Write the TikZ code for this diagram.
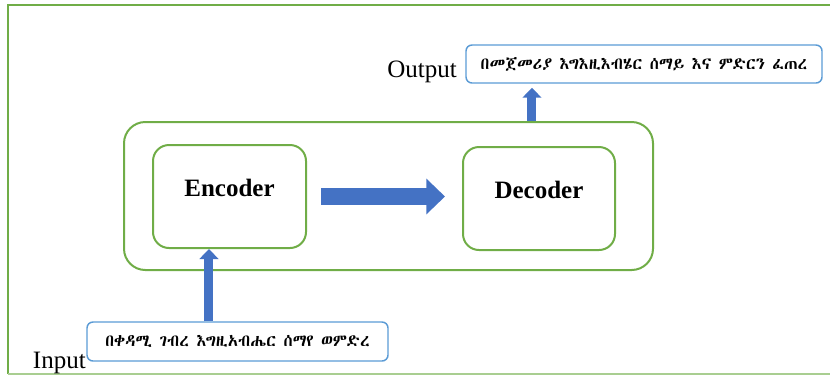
\documentclass[tikz,border=0pt]{standalone}
\usepackage{fontspec}
\setmainfont{Liberation Serif}
\IfFontExistsTF{Abyssinica SIL}
  {\newfontfamily\ethfont{Abyssinica SIL}}
  {\IfFontExistsTF{FreeSerif}
    {\newfontfamily\ethfont{FreeSerif}}
    {\newfontfamily\ethfont{DejaVu Sans}}}
\usetikzlibrary{arrows.meta}

\begin{document}
\begin{tikzpicture}[x=0.75pt, y=-0.75pt,
    greenbox/.style={draw=framegreen, line width=1.5pt, rounded corners=12pt},
    textbox/.style={draw=boxblue, line width=1.1pt, rounded corners=4.5pt,
      font=\ethfont\fontsize{12.5pt}{14pt}\selectfont},
    lbl/.style={inner sep=0pt, font=\fontsize{18.75pt}{20pt}\selectfont},
    fatarrow/.style={draw=arrowblue, line width=12.75pt,
      -{Triangle[width=26pt,length=14pt]}},
    thinarrow/.style={draw=arrowblue, line width=6.75pt,
      -{Triangle[width=14pt,length=7.5pt]}}]

    % Colores
    \definecolor{framegreen}{HTML}{70AD47}
    \definecolor{boxblue}{HTML}{5B9BD5}
    \definecolor{arrowblue}{HTML}{4472C4}

    \useasboundingbox (0,0) rectangle (830,376);

    % 1. Marco exterior
    \draw[framegreen, line width=2.2pt] (831,5) -- (8,5) -- (8,374);
    \draw[framegreen!60, line width=1.2pt] (8,374) -- (831,374);

    % 2. Bloque del modelo y sus partes
    \node[greenbox, rounded corners=16pt, minimum width=396.75pt,
      minimum height=111pt] (model) at (388.5,196) {};
    \node[greenbox, minimum width=114.75pt, minimum height=77.25pt,
      font=\bfseries\fontsize{18.75pt}{20pt}\selectfont,
      text height=12pt, text depth=12pt] (enc) at (229.5,196.5) {Encoder};
    \node[greenbox, minimum width=114pt, minimum height=77.25pt,
      font=\bfseries\fontsize{18.75pt}{20pt}\selectfont,
      text height=12pt, text depth=12pt] (dec) at (539,198.5) {Decoder};

    % 3. Cajas de texto
    \node[textbox, minimum width=267pt, minimum height=28.5pt] (outbox)
      at (644,64) {በመጀመሪያ እግእዚእብሄር ሰማይ እና ምድርን ፈጠረ};
    \node[textbox, minimum width=225.75pt, minimum height=29.25pt] (inbox)
      at (237.5,341.5) {በቀዳሚ ገብረ እግዚአብሔር ሰማየ ወምድረ};
    \node[lbl, anchor=base east] (outlbl) at (457,77) {Output};
    \node[lbl, anchor=base east] (inlbl) at (86,368) {Input};

    % 4. Flechas
    \draw[fatarrow, shorten <=10.5pt, shorten >=12.75pt]
      (enc.east) -- (enc.east -| dec.west);
    \coordinate (inarr) at ([xshift=-21.4pt]inbox.north);
    \draw[thinarrow] (inarr) -- (inarr |- enc.south);
    \coordinate (outarr) at ([xshift=107.6pt]model.north);
    \draw[thinarrow, shorten >=3pt] (outarr) -- (outarr |- outbox.south);

\end{tikzpicture}
\end{document}
